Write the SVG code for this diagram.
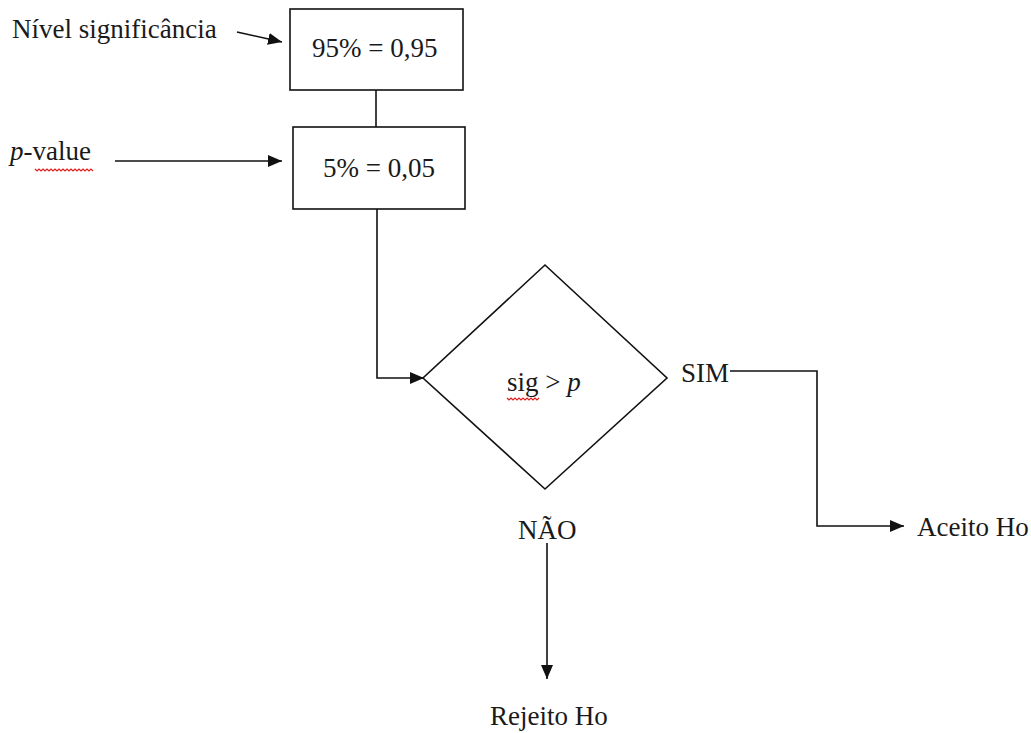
<svg xmlns="http://www.w3.org/2000/svg" width="1031" height="733" viewBox="0 0 1031 733">
<style>
text{font-family:"Liberation Serif","Times New Roman",serif;font-size:27px;fill:#1a1a1a}
.shape{fill:#fff;stroke:#111;stroke-width:1.6}
.line{fill:none;stroke:#111;stroke-width:1.6}
.sq{fill:none;stroke:#e0201c;stroke-width:1.2}
</style>
<defs>
<marker id="arr" viewBox="0 0 14 12" refX="14" refY="6" markerWidth="14" markerHeight="12" markerUnits="userSpaceOnUse" orient="auto">
<path d="M0,0 L14,6 L0,12 Z" fill="#111"/>
</marker>
</defs>
<rect width="1031" height="733" fill="#fff"/>
<g id="connectors">
<line class="line" x1="237" y1="32" x2="282" y2="42" marker-end="url(#arr)"/>
<line class="line" x1="115" y1="161" x2="282" y2="161" marker-end="url(#arr)"/>
<line class="line" x1="376" y1="90" x2="376" y2="127"/>
<polyline class="line" points="377,209 377,378 424,378" marker-end="url(#arr)"/>
<polyline class="line" points="730,371 817,371 817,526 904,526" marker-end="url(#arr)"/>
<line class="line" x1="547" y1="543" x2="547" y2="679" marker-end="url(#arr)"/>
</g>
<g id="label-nivel"><text x="12" y="38">Nível significância</text></g>
<g id="label-pvalue"><text x="10" y="160"><tspan font-style="italic">p</tspan>-value</text>
<path class="sq" d="M35,169 l2,2 l2,-2 l2,2 l2,-2 l2,2 l2,-2 l2,2 l2,-2 l2,2 l2,-2 l2,2 l2,-2 l2,2 l2,-2 l2,2 l2,-2 l2,2 l2,-2 l2,2 l2,-2 l2,2 l2,-2 l2,2 l2,-2 l2,2 l2,-2 l2,2 l2,-2 l2,2"/></g>
<g id="box1"><rect class="shape" x="290" y="9" width="173" height="81"/><text x="312" y="57">95% = 0,95</text></g>
<g id="box2"><rect class="shape" x="293" y="127" width="172" height="82"/><text x="323" y="177">5% = 0,05</text></g>
<g id="decision"><polygon class="shape" points="545,265 667,378 545,489 423,378"/>
<text x="507" y="391">sig &gt; <tspan font-style="italic">p</tspan></text>
<path class="sq" d="M507,398 l2,2 l2,-2 l2,2 l2,-2 l2,2 l2,-2 l2,2 l2,-2 l2,2 l2,-2 l2,2 l2,-2 l2,2 l2,-2 l2,2 l2,-2"/></g>
<g id="label-sim"><text x="681" y="382">SIM</text></g>
<g id="label-nao"><text x="518" y="539">NÃO</text></g>
<g id="aceito"><text x="917" y="536">Aceito Ho</text></g>
<g id="rejeito"><text x="490" y="725">Rejeito Ho</text></g>
</svg>
